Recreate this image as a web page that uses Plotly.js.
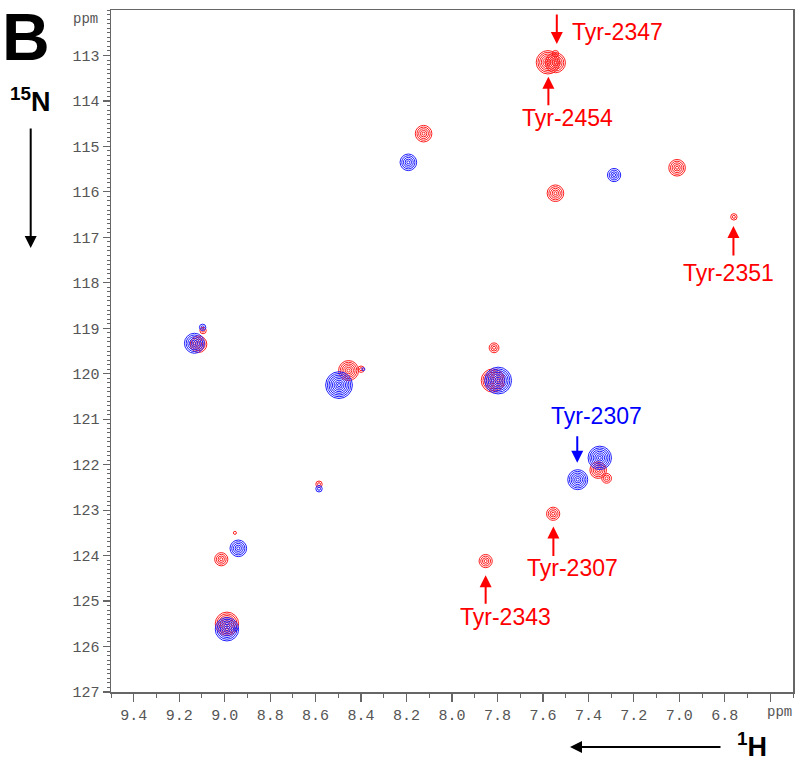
<!DOCTYPE html>
<html>
<head>
<meta charset="utf-8">
<script src="https://cdn.plot.ly/plotly-3.0.1.min.js"></script>
<style>
  html, body { margin: 0; padding: 0; background: #fff; }
  #chart { width: 800px; height: 763px; }
</style>
</head>
<body>
<div id="chart"></div>
<script>
// ---- Data: peak positions (1H ppm, 15N ppm) and contour level counts ----
const redX      = [7.578, 7.545, 7.545, 8.125, 7.545, 7.010, 6.760, 9.115, 9.095, 8.455, 8.400, 7.815, 7.820, 7.357, 7.320, 7.555, 7.852, 9.015, 8.955, 8.990, 8.585];
const redY      = [113.15, 113.16, 112.96, 114.72, 116.03, 115.47, 116.55, 119.35, 119.05, 119.93, 119.90, 119.43, 120.15, 122.12, 122.30, 123.08, 124.12, 124.08, 123.50, 125.50, 122.43];
const redLevels = [7, 6, 2, 5, 5, 5, 2, 5, 2, 6, 2, 3, 7, 5, 3, 4, 4, 4, 1, 7, 2];

const blueX      = [8.192, 7.287, 9.133, 9.097, 8.497, 8.390, 7.797, 7.447, 7.350, 8.940, 8.990, 8.950, 8.585];
const blueY      = [115.35, 115.63, 119.33, 118.98, 120.25, 119.90, 120.15, 122.33, 121.85, 123.84, 125.62, 125.62, 122.53];
const blueLevels = [5, 4, 6, 2, 8, 1, 8, 6, 7, 5, 7, 1, 2];

const xTickVals  = [9.4, 9.2, 9.0, 8.8, 8.6, 8.4, 8.2, 8.0, 7.8, 7.6, 7.4, 7.2, 7.0, 6.8, 6.6];
const xTickText  = ['9.4', '9.2', '9.0', '8.8', '8.6', '8.4', '8.2', '8.0', '7.8', '7.6', '7.4', '7.2', '7.0', '6.8', ''];
const yTickVals  = [113, 114, 115, 116, 117, 118, 119, 120, 121, 122, 123, 124, 125, 126, 127];

// Residue labels: text, anchor (ppm), arrow tip (ppm), tail offset (px), colour key
const labelText  = ['Tyr-2347', 'Tyr-2454', 'Tyr-2351', 'Tyr-2307', 'Tyr-2307', 'Tyr-2343'];
const labelX     = [7.274, 7.494, 6.783, 7.366, 7.472, 7.764];
const labelY     = [112.48, 114.375, 117.78, 120.93, 124.27, 125.35];
const arrowX     = [7.539, 7.576, 6.762, 7.449, 7.554, 7.852];
const arrowY     = [112.75, 113.47, 116.75, 121.96, 123.36, 124.43];
const arrowAy    = [-31, 30, 31, -28, 31, 30];
const labelColor = ['red', 'red', 'red', 'blue', 'red', 'red'];

// ---- Styles ----
const RED = '#ff1f1f';
const BLUE = '#1f1fff';
const colorMap = { red: '#ff0000', blue: '#0000ff' };

function ringTraces(xs, ys, lv, color) {
  const maxL = Math.max.apply(null, lv);
  const traces = [];
  for (let k = maxL; k >= 1; k--) {
    const px = [], py = [];
    lv.forEach((l, i) => { if (l >= k) { px.push(xs[i]); py.push(ys[i]); } });
    traces.push({
      type: 'scatter', mode: 'markers', x: px, y: py,
      hoverinfo: 'skip', showlegend: false,
      marker: { symbol: 'circle-open', size: 3 + 3.4 * (k - 1), color: color, line: { width: 1, color: color } }
    });
  }
  return traces;
}

const data = [].concat(
  ringTraces(redX, redY, redLevels, RED),
  ringTraces(blueX, blueY, blueLevels, BLUE)
);

// plot area: x 111..793, y 10..692
const L = 111, T = 10, W = 682, H = 682;
const px2x = p => (p - L) / W;
const px2y = p => 1 - (p - T) / H;

const annotations = [];
labelText.forEach((t, i) => {
  const c = colorMap[labelColor[i]];
  annotations.push({
    x: labelX[i], y: labelY[i], xref: 'x', yref: 'y', text: t, showarrow: false,
    xanchor: 'center', yanchor: 'middle',
    font: { family: 'Liberation Sans, Arial, sans-serif', size: 23, color: c }
  });
  annotations.push({
    x: arrowX[i], y: arrowY[i], xref: 'x', yref: 'y', text: '', showarrow: true,
    ax: 0, ay: arrowAy[i], arrowhead: 2, arrowsize: 1.2, arrowwidth: 2, arrowcolor: c
  });
});

// panel letter and axis nucleus labels
annotations.push({ xref: 'paper', yref: 'paper', x: px2x(26), y: px2y(37), text: '<b>B</b>', showarrow: false,
  xanchor: 'center', yanchor: 'middle', font: { family: 'Liberation Sans, Arial, sans-serif', size: 66, color: '#000' } });
annotations.push({ xref: 'paper', yref: 'paper', x: px2x(30), y: px2y(100), text: '<b><sup>15</sup>N</b>', showarrow: false,
  xanchor: 'center', yanchor: 'middle', font: { family: 'Liberation Sans, Arial, sans-serif', size: 27, color: '#000' } });
annotations.push({ xref: 'paper', yref: 'paper', x: px2x(30.7), y: px2y(248), text: '', showarrow: true,
  ax: 0, ay: -121, arrowhead: 2, arrowsize: 1.2, arrowwidth: 2, arrowcolor: '#000' });
annotations.push({ xref: 'paper', yref: 'paper', x: px2x(752), y: px2y(745), text: '<b><sup>1</sup>H</b>', showarrow: false,
  xanchor: 'center', yanchor: 'middle', font: { family: 'Liberation Sans, Arial, sans-serif', size: 27, color: '#000' } });
annotations.push({ xref: 'paper', yref: 'paper', x: px2x(570), y: px2y(747), text: '', showarrow: true,
  ax: 152, ay: 0, arrowhead: 2, arrowsize: 1.2, arrowwidth: 2, arrowcolor: '#000' });

// "ppm" unit labels
annotations.push({ xref: 'paper', yref: 'paper', x: px2x(100), y: px2y(19), text: 'ppm', showarrow: false,
  xanchor: 'right', yanchor: 'middle', font: { family: 'Liberation Mono, Courier New, monospace', size: 14, color: '#555' } });
annotations.push({ xref: 'paper', yref: 'paper', x: px2x(779), y: px2y(712), text: 'ppm', showarrow: false,
  xanchor: 'center', yanchor: 'middle', font: { family: 'Liberation Mono, Courier New, monospace', size: 14, color: '#555' } });

const tickFont = { family: 'Liberation Mono, Courier New, monospace', size: 15, color: '#555' };

const layout = {
  width: 800, height: 763,
  margin: { l: L, r: 800 - L - W, t: T, b: 763 - T - H },
  paper_bgcolor: '#fff', plot_bgcolor: '#fff',
  showlegend: false,
  xaxis: {
    range: [9.5, 6.5], showgrid: false, zeroline: false,
    showline: true, mirror: true, linecolor: '#666', linewidth: 1.5,
    ticks: 'outside', ticklen: 8, tickwidth: 1.2, tickcolor: '#666',
    tickmode: 'array', tickvals: xTickVals, ticktext: xTickText,
    tickfont: tickFont,
    minor: { dtick: 0.1, tick0: 0, ticks: 'outside', ticklen: 4, tickwidth: 1, tickcolor: '#666', showgrid: false }
  },
  yaxis: {
    range: [127, 112], showgrid: false, zeroline: false,
    showline: true, mirror: true, linecolor: '#666', linewidth: 1.5,
    ticks: 'outside', ticklen: 7, tickwidth: 1.2, tickcolor: '#666',
    tickmode: 'array', tickvals: yTickVals,
    tickfont: tickFont,
    minor: { dtick: 0.1, tick0: 0, ticks: 'outside', ticklen: 3, tickwidth: 1, tickcolor: '#666', showgrid: false }
  },
  annotations: annotations
};

Plotly.newPlot('chart', data, layout, { displayModeBar: false, staticPlot: true });
</script>
</body>
</html>
